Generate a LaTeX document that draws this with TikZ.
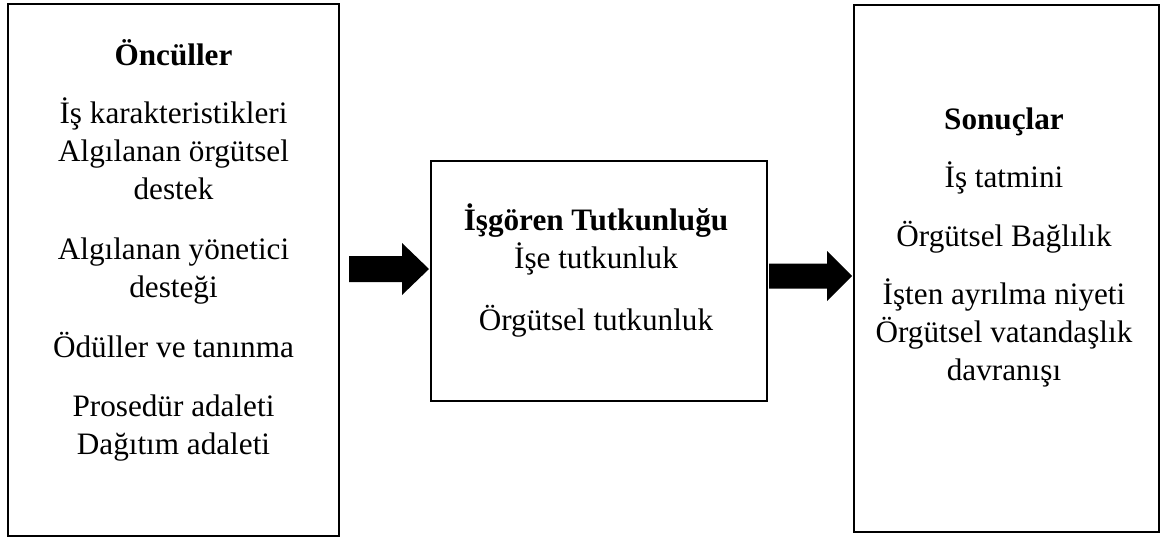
\documentclass[tikz,border=0pt]{standalone}
\usepackage{fontspec}
\setmainfont{Liberation Serif}
\begin{document}
\begin{tikzpicture}[x=0.5pt,y=-0.5pt,
  panel/.style={draw=black, line width=1.3pt, inner sep=0pt, outer sep=0pt},
  txt/.style={align=center, font=\fontsize{15.6pt}{19pt}\selectfont, anchor=base, inner sep=0pt},
  blockarrow/.style={fill=black, draw=none}]
\useasboundingbox (0,0) rectangle (1161,541);

% the three boxes
\node[panel, minimum width=165.5pt, minimum height=266pt] (onc) at (173.5,270) {};
\node[panel, minimum width=168pt, minimum height=120pt] (tut) at (599,281) {};
\node[panel, minimum width=152.5pt, minimum height=263.5pt] (son) at (1006.5,268.5) {};

% box contents (each node sits on the baseline of its last line)
\node[txt] (onctext) at (173.5,454) {\textbf{Öncüller}\\[10pt]
  İş karakteristikleri\\ Algılanan örgütsel\\ destek\\[11pt]
  Algılanan yönetici\\ desteği\\[11pt]
  Ödüller ve tanınma\\[10.5pt]
  Prosedür adaleti\\ Dağıtım adaleti};
\node[txt] (tuttext) at (596,330) {\textbf{İşgören Tutkunluğu}\\
  İşe tutkunluk\\[12pt] Örgütsel tutkunluk};
\node[txt] (sontext) at (1004,380) {\textbf{Sonuçlar}\\[10pt]
  İş tatmini\\[10.5pt] Örgütsel Bağlılık\\[10pt]
  İşten ayrılma niyeti\\ Örgütsel vatandaşlık\\ davranışı};

% block arrows between the boxes
\coordinate (a1) at (349,269);
\coordinate (a2) at (769,276);
\fill[blockarrow] (a1) ++(0,-13) -- ++(53,0) -- ++(0,-13) -- ++(27,26)
  -- ++(-27,26) -- ++(0,-13) -- ++(-53,0) -- cycle;
\fill[blockarrow] (a2) ++(0,-12.5) -- ++(58,0) -- ++(0,-12.5) -- ++(25,25)
  -- ++(-25,25) -- ++(0,-12.5) -- ++(-58,0) -- cycle;
\end{tikzpicture}
\end{document}
